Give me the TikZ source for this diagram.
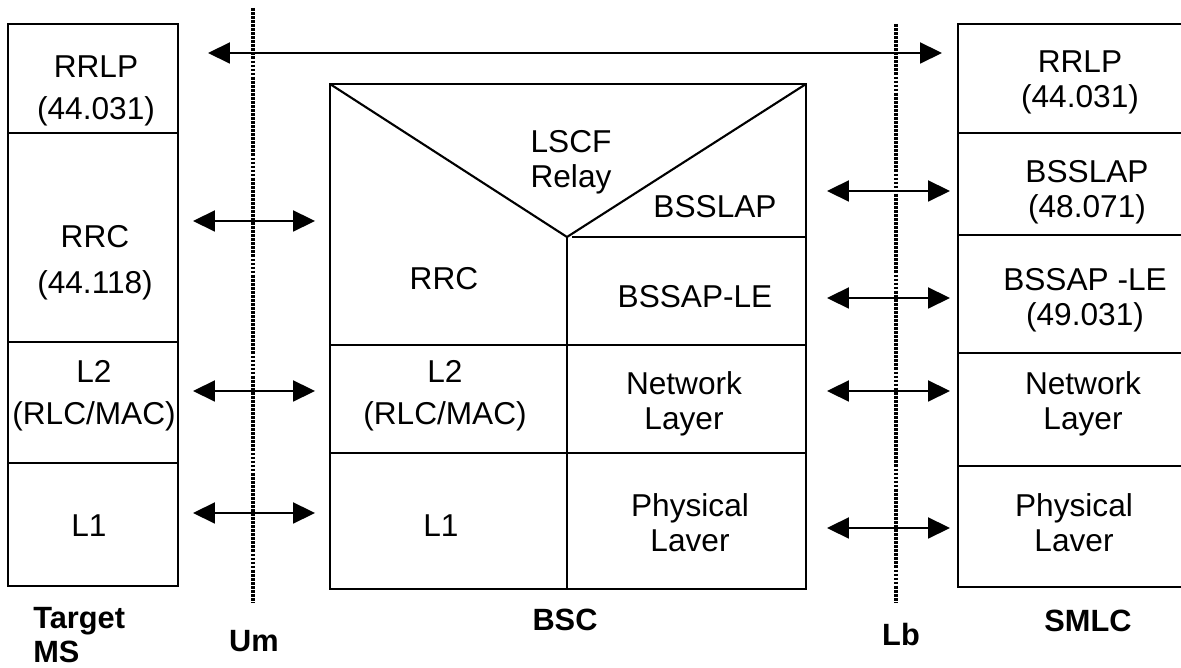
\documentclass[tikz,border=0pt]{standalone}
\usepackage{fontspec}
\setmainfont{Liberation Sans}
\usepackage{tikz}
\usetikzlibrary{arrows.meta, positioning}
\tikzset{
  layer/.style={rectangle, draw, line width=1.2pt, inner sep=0pt, outer sep=0pt},
  mslayer/.style={layer, minimum width=3.4cm},
  smlayer/.style={layer, minimum width=4.84cm},
  txt/.style={align=center, inner sep=0pt, font=\fontsize{18}{20}\selectfont},
  lbl/.style={align=left, inner sep=0pt, font=\fontsize{17.5}{20}\selectfont\bfseries},
  rule/.style={line width=1.2pt},
  iface/.style={line width=1.8pt, dash pattern=on 1.6pt off 0.7pt},
  dbl/.style={{Triangle[length=0.44cm,width=0.42cm]}-{Triangle[length=0.44cm,width=0.42cm]}, line width=1.1pt}
}
\begin{document}
\begin{tikzpicture}[x=0.02cm, y=-0.02cm, node distance=0pt]
  \clip (0,0) rectangle (1181,668);
  % Target MS stack
  \node[mslayer, minimum height=2.18cm] (msrrlp) at (93,78.5) {};
  \node[mslayer, minimum height=4.18cm, below=of msrrlp] (msrrc) {};
  \node[mslayer, minimum height=2.42cm, below=of msrrc] (msl2) {};
  \node[mslayer, minimum height=2.46cm, below=of msl2] (msl1) {};
  \node[txt] (tmsrrlp) at (96,91) {RRLP\\[4pt] (44.031)};
  \node[txt] (tmsrrc) at (95,262.5) {RRC\\[6pt](44.118)};
  \node[txt] (tmsl2) at (94,396) {L2\\[4pt](RLC/MAC)};
  \node[txt] (tmsl1) at (89,526) {L1};
  % BSC
  \node[layer, minimum width=9.52cm, minimum height=10.1cm] (bsc) at (568,336.5) {};
  \coordinate (apex) at (567,237);
  \coordinate (row2) at (0,345);
  \coordinate (row3) at (0,453);
  \draw[rule] (bsc.north west) -- (apex) -- (bsc.north east);
  \draw[rule] (apex) -- (apex |- bsc.south);
  \draw[rule] ([xshift=0.1cm]apex) -- (bsc.east |- apex);
  \draw[rule] (bsc.west |- row2) -- (bsc.east |- row2);
  \draw[rule] (bsc.west |- row3) -- (bsc.east |- row3);
  \node[txt] (tlscf) at (571,162) {LSCF\\Relay};
  \node[txt] (tbsslap) at (715,207) {BSSLAP};
  \node[txt] (tbscrrc) at (444,279) {RRC};
  \node[txt] (tbssap) at (695,297) {BSSAP-LE};
  \node[txt] (tbscl2) at (445,396) {L2\\[4pt](RLC/MAC)};
  \node[txt] (tbscnet) at (684,404) {Network\\Layer};
  \node[txt] (tbscl1) at (441,526) {L1};
  \node[txt] (tbscphy) at (690,523) {Physical\\Laver};
  % SMLC stack
  \node[smlayer, minimum height=2.18cm] (smrrlp) at (1079,78.5) {};
  \node[smlayer, minimum height=2.04cm, below=of smrrlp] (smbsslap) {};
  \node[smlayer, minimum height=2.36cm, below=of smbsslap] (smbssap) {};
  \node[smlayer, minimum height=2.26cm, below=of smbssap] (smnet) {};
  \node[smlayer, minimum height=2.42cm, below=of smnet] (smphy) {};
  \node[txt] (tsmrrlp) at (1080,82) {RRLP\\ (44.031)};
  \node[txt] (tsmbsslap) at (1087,192) {BSSLAP\\ (48.071)};
  \node[txt] (tsmbssap) at (1085,300) {BSSAP -LE\\ (49.031)};
  \node[txt] (tsmnet) at (1083,404) {Network\\Layer};
  \node[txt] (tsmphy) at (1074,523) {Physical\\Laver};
  % Interfaces
  \draw[iface] (253,8) -- (253,603);
  \draw[iface] (896,24) -- (896,603);
  % Peer arrows
  \draw[dbl, shorten <=0.6cm, shorten >=0.32cm] (msrrlp.east |- 0,53) -- (smrrlp.west |- 0,53);
  \draw[dbl, shorten <=0.3cm, shorten >=0.3cm] (msrrc.east |- 0,221) -- (bsc.west |- 0,221);
  \draw[dbl, shorten <=0.3cm, shorten >=0.3cm] (msl2.east |- 0,391) -- (bsc.west |- 0,391);
  \draw[dbl, shorten <=0.3cm, shorten >=0.3cm] (msl1.east |- 0,513) -- (bsc.west |- 0,513);
  \draw[dbl, shorten <=0.42cm, shorten >=0.16cm] (bsc.east |- 0,191) -- (smbsslap.west |- 0,191);
  \draw[dbl, shorten <=0.42cm, shorten >=0.16cm] (bsc.east |- 0,298) -- (smbssap.west |- 0,298);
  \draw[dbl, shorten <=0.42cm, shorten >=0.16cm] (bsc.east |- 0,391) -- (smnet.west |- 0,391);
  \draw[dbl, shorten <=0.42cm, shorten >=0.16cm] (bsc.east |- 0,528) -- (smphy.west |- 0,528);
  % Entity and interface names
  \node[lbl, anchor=west] (lms) at (33,635) {Target\\[-1pt]MS};
  \node[lbl] (lum) at (254,641) {Um};
  \node[lbl] (lbsc) at (565,620) {BSC};
  \node[lbl] (llb) at (901,635) {Lb};
  \node[lbl] (lsmlc) at (1088,621) {SMLC};
\end{tikzpicture}
\end{document}
